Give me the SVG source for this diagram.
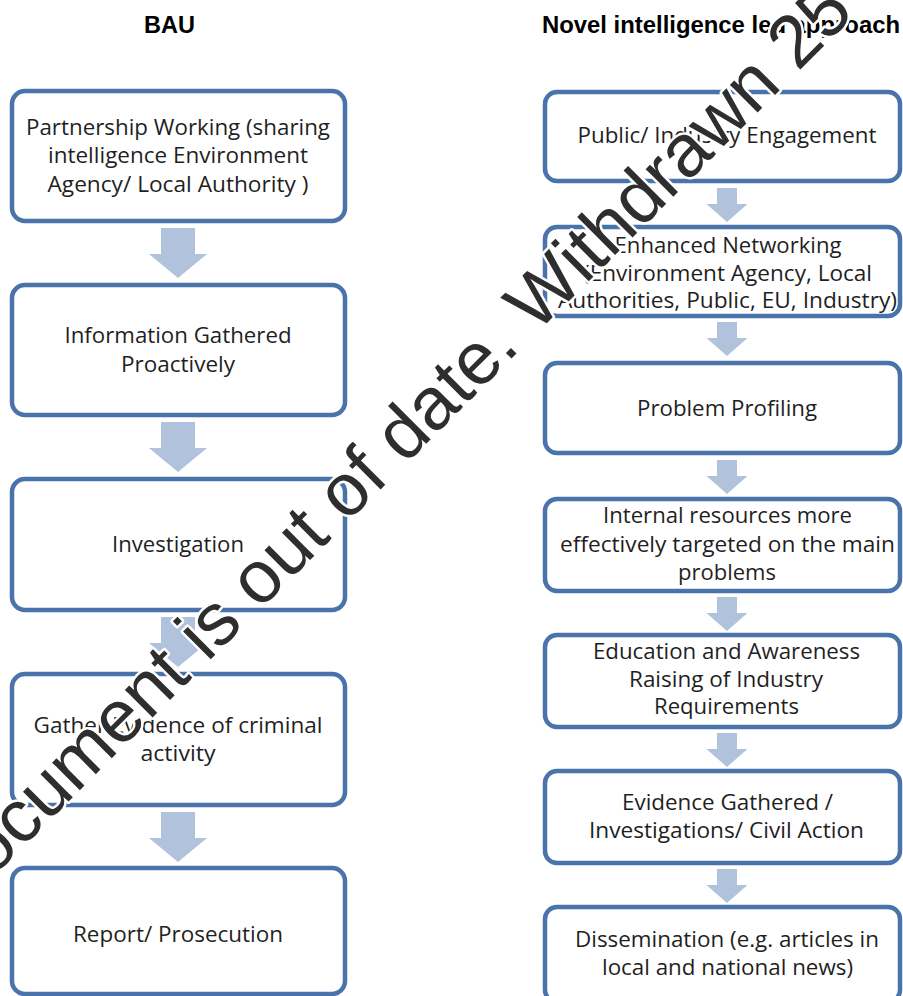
<svg xmlns="http://www.w3.org/2000/svg" width="903" height="996" viewBox="0 0 903 996">
<style>
.bg{fill:#ffffff}
.box{fill:#ffffff;stroke:#4a73ab;stroke-width:4.5}
.arr{fill:#b1c2dc}
.t{font-family:"Open Sans","Liberation Sans",sans-serif;font-size:22px;fill:#1f1f1f;text-anchor:middle}
.h{font-family:"Liberation Sans",Arial,sans-serif;font-size:23.5px;font-weight:bold;fill:#000000}
.wm{font-family:"Liberation Sans",Arial,sans-serif;font-size:74px;fill:#2e2e2e;stroke:#ffffff;stroke-width:5;paint-order:stroke;stroke-linejoin:round}
</style>
<rect class="bg" x="0" y="0" width="903" height="996"/>
<g id="titles">
<text class="h" x="169.5" y="33" text-anchor="middle">BAU</text>
<text class="h" x="542" y="33" textLength="358" lengthAdjust="spacingAndGlyphs">Novel intelligence led approach</text>
</g>
<g id="connectors">
<path class="arr" d="M161 228H195V254H207L178 278L149 254H161Z"/>
<path class="arr" d="M161 422H195V448H207L178 472L149 448H161Z"/>
<path class="arr" d="M161 617H195V643H207L178 667L149 643H161Z"/>
<path class="arr" d="M161 812H195V838H207L178 862L149 838H161Z"/>
<path class="arr" d="M717 188H737V204H747.5L727 222L706.5 204H717Z"/>
<path class="arr" d="M717 322H737V338H747.5L727 356L706.5 338H717Z"/>
<path class="arr" d="M717 460H737V476H747.5L727 494L706.5 476H717Z"/>
<path class="arr" d="M717 597H737V613H747.5L727 631L706.5 613H717Z"/>
<path class="arr" d="M717 733H737V749H747.5L727 767L706.5 749H717Z"/>
<path class="arr" d="M717 869H737V885H747.5L727 903L706.5 885H717Z"/>
</g>
<g id="bau1">
<rect class="box" x="12" y="91" width="333" height="130" rx="13"/>
<text class="t" x="178" y="135" textLength="304" lengthAdjust="spacingAndGlyphs">Partnership Working (sharing</text>
<text class="t" x="178" y="163" textLength="260" lengthAdjust="spacingAndGlyphs">intelligence Environment</text>
<text class="t" x="178" y="192" textLength="261" lengthAdjust="spacingAndGlyphs">Agency/ Local Authority )</text>
</g>
<g id="bau2">
<rect class="box" x="12" y="285" width="333" height="130" rx="13"/>
<text class="t" x="178" y="343" textLength="227" lengthAdjust="spacingAndGlyphs">Information Gathered</text>
<text class="t" x="178" y="372" textLength="114" lengthAdjust="spacingAndGlyphs">Proactively</text>
</g>
<g id="bau3">
<rect class="box" x="12" y="479" width="333" height="131" rx="13"/>
<text class="t" x="178" y="552" textLength="132" lengthAdjust="spacingAndGlyphs">Investigation</text>
</g>
<g id="bau4">
<rect class="box" x="12" y="674" width="333" height="131" rx="13"/>
<text class="t" x="178" y="733" textLength="289" lengthAdjust="spacingAndGlyphs">Gather Evidence of criminal</text>
<text class="t" x="178" y="761" textLength="75" lengthAdjust="spacingAndGlyphs">activity</text>
</g>
<g id="bau5">
<rect class="box" x="12" y="868" width="333" height="126" rx="13"/>
<text class="t" x="178" y="942" textLength="210" lengthAdjust="spacingAndGlyphs">Report/ Prosecution</text>
</g>
<g id="nov1">
<rect class="box" x="545" y="92" width="355" height="89" rx="12"/>
<text class="t" x="727" y="143" textLength="299" lengthAdjust="spacingAndGlyphs">Public/ Industry Engagement</text>
</g>
<g id="nov2">
<rect class="box" x="545" y="227" width="355" height="89" rx="12"/>
<text class="t" x="728" y="253" textLength="227" lengthAdjust="spacingAndGlyphs">Enhanced Networking</text>
<text class="t" x="727.5" y="281" textLength="289" lengthAdjust="spacingAndGlyphs">(Environment Agency, Local</text>
<text class="t" x="727.5" y="308" textLength="339" lengthAdjust="spacingAndGlyphs">Authorities, Public, EU, Industry)</text>
</g>
<g id="nov3">
<rect class="box" x="545" y="363" width="355" height="90" rx="12"/>
<text class="t" x="727" y="416" textLength="180" lengthAdjust="spacingAndGlyphs">Problem Profiling</text>
</g>
<g id="nov4">
<rect class="box" x="545" y="499" width="355" height="92" rx="12"/>
<text class="t" x="727.5" y="523" textLength="249" lengthAdjust="spacingAndGlyphs">Internal resources more</text>
<text class="t" x="727.5" y="552" textLength="335" lengthAdjust="spacingAndGlyphs">effectively targeted on the main</text>
<text class="t" x="727" y="580" textLength="98" lengthAdjust="spacingAndGlyphs">problems</text>
</g>
<g id="nov5">
<rect class="box" x="545" y="635" width="355" height="92" rx="12"/>
<text class="t" x="726.5" y="659" textLength="267" lengthAdjust="spacingAndGlyphs">Education and Awareness</text>
<text class="t" x="726" y="687" textLength="194" lengthAdjust="spacingAndGlyphs">Raising of Industry</text>
<text class="t" x="726.5" y="714" textLength="145" lengthAdjust="spacingAndGlyphs">Requirements</text>
</g>
<g id="nov6">
<rect class="box" x="545" y="771" width="355" height="92" rx="12"/>
<text class="t" x="727.5" y="810" textLength="211" lengthAdjust="spacingAndGlyphs">Evidence Gathered /</text>
<text class="t" x="726.5" y="838" textLength="275" lengthAdjust="spacingAndGlyphs">Investigations/ Civil Action</text>
</g>
<g id="nov7">
<rect class="box" x="545" y="907" width="355" height="95" rx="12"/>
<text class="t" x="727" y="947" textLength="304" lengthAdjust="spacingAndGlyphs">Dissemination (e.g. articles in</text>
<text class="t" x="727.5" y="975" textLength="251" lengthAdjust="spacingAndGlyphs">local and national news)</text>
</g>
<g id="watermark">
<text class="wm" transform="translate(-8 878) rotate(-45)" x="0" y="0">ocument is out of date. Withdrawn 25</text>
</g>
</svg>
